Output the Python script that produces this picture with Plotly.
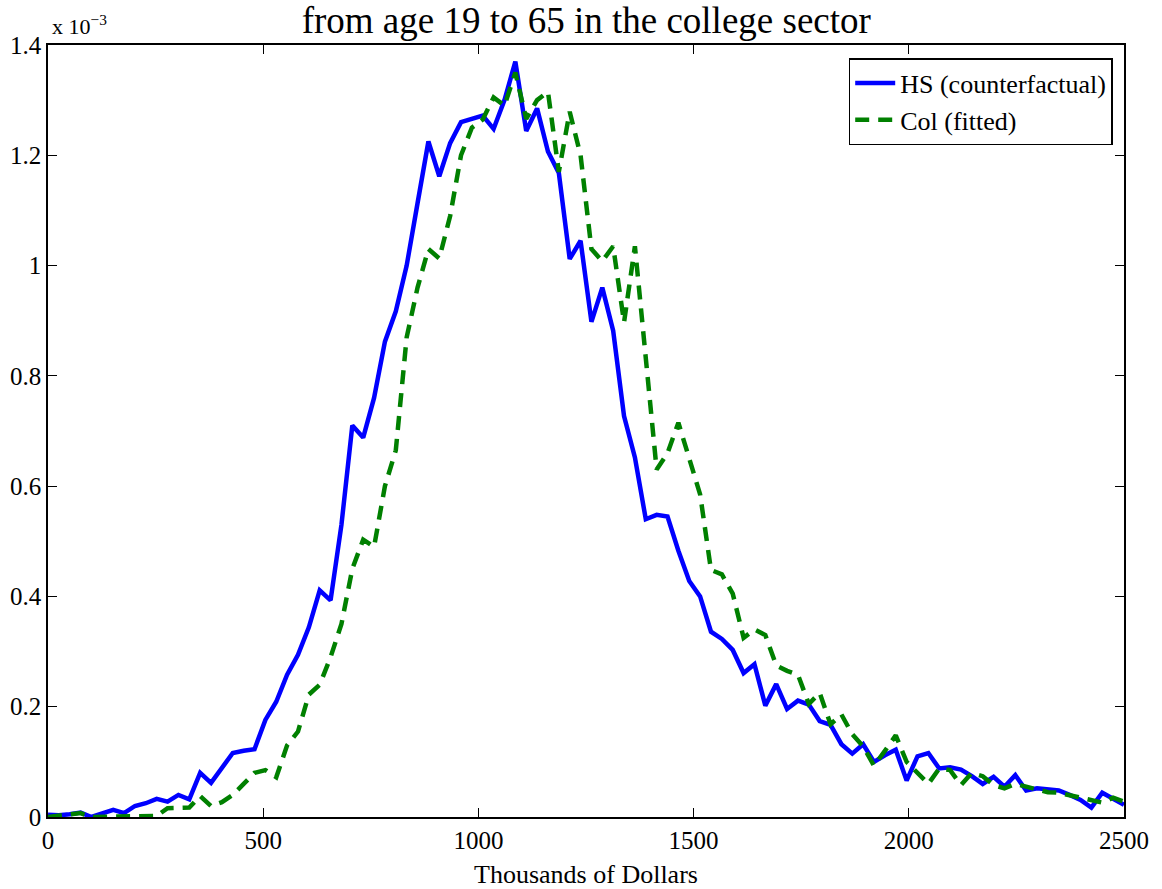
import numpy as np
import plotly.graph_objects as go

# income grid, thousands of dollars (100 evaluation points from 0 to 2500)
INCOME = np.linspace(0, 2500, 100)

# densities, in units of 1e-3
HS_COUNTERFACTUAL = [
    0.004, 0.003, 0.005, 0.008, 0.000, 0.007, 0.013, 0.007, 0.020, 0.025,
    0.033, 0.028, 0.040, 0.032, 0.080, 0.062, 0.089, 0.116, 0.120, 0.123,
    0.176, 0.209, 0.258, 0.294, 0.344, 0.411, 0.393, 0.530, 0.710, 0.688,
    0.760, 0.862, 0.917, 1.000, 1.113, 1.225, 1.162, 1.222, 1.260, 1.265,
    1.272, 1.248, 1.300, 1.370, 1.244, 1.285, 1.207, 1.168, 1.012, 1.045,
    0.898, 0.960, 0.882, 0.727, 0.652, 0.540, 0.548, 0.545, 0.483, 0.428,
    0.400, 0.336, 0.323, 0.303, 0.261, 0.277, 0.202, 0.241, 0.196, 0.211,
    0.204, 0.174, 0.167, 0.132, 0.115, 0.132, 0.100, 0.112, 0.122, 0.066,
    0.110, 0.116, 0.088, 0.090, 0.086, 0.074, 0.060, 0.073, 0.055, 0.076,
    0.048, 0.052, 0.051, 0.048, 0.040, 0.031, 0.017, 0.044, 0.033, 0.022,
]

COL_FITTED = [
    0.000, 0.002, 0.004, 0.007, 0.000, 0.000, 0.000, 0.000, 0.001, 0.001,
    0.002, 0.016, 0.017, 0.017, 0.038, 0.020, 0.027, 0.040, 0.060, 0.080,
    0.085, 0.072, 0.130, 0.155, 0.222, 0.240, 0.290, 0.350, 0.450, 0.503,
    0.490, 0.600, 0.665, 0.870, 0.960, 1.030, 1.013, 1.090, 1.200, 1.250,
    1.265, 1.305, 1.290, 1.350, 1.266, 1.300, 1.315, 1.170, 1.279, 1.200,
    1.030, 1.008, 1.035, 0.897, 1.035, 0.830, 0.630, 0.660, 0.715, 0.650,
    0.585, 0.448, 0.440, 0.405, 0.325, 0.340, 0.330, 0.275, 0.265, 0.258,
    0.205, 0.225, 0.168, 0.186, 0.150, 0.128, 0.093, 0.120, 0.148, 0.100,
    0.080, 0.060, 0.088, 0.085, 0.058, 0.080, 0.074, 0.058, 0.052, 0.060,
    0.055, 0.050, 0.045, 0.044, 0.040, 0.035, 0.030, 0.026, 0.035, 0.028,
]

X_TICKS = [0, 500, 1000, 1500, 2000, 2500]
Y_TICKS = [0, 0.2, 0.4, 0.6, 0.8, 1.0, 1.2, 1.4]
Y_TICK_TEXT = ["0", "0.2", "0.4", "0.6", "0.8", "1", "1.2", "1.4"]

SERIF = "Liberation Serif, Times New Roman, serif"

fig = go.Figure()
fig.add_trace(go.Scatter(
    x=INCOME, y=HS_COUNTERFACTUAL, mode="lines", name="HS (counterfactual)",
    line=dict(color="#0000ff", width=4.5),
))
fig.add_trace(go.Scatter(
    x=INCOME, y=COL_FITTED, mode="lines", name="Col (fitted)",
    line=dict(color="#008000", width=4.5, dash="14px,9px"),
))

axis_common = dict(
    showline=True, linecolor="black", linewidth=1.5, mirror="ticks",
    ticks="inside", ticklen=9, tickwidth=1, tickcolor="black",
    showgrid=False, zeroline=False, automargin=False,
    tickfont=dict(family=SERIF, size=25, color="black"),
)

fig.update_layout(
    width=1162, height=889,
    paper_bgcolor="white", plot_bgcolor="white",
    margin=dict(l=48, r=38, t=45, b=72),
    font=dict(family=SERIF, color="black"),
    title=dict(
        text="from age 19 to 65 in the college sector",
        x=0.5045, xanchor="center", y=0.978, yanchor="middle",
        font=dict(family=SERIF, size=37, color="black"),
    ),
    xaxis=dict(
        range=[0, 2500], tickvals=X_TICKS,
        title=dict(text="Thousands of Dollars", font=dict(family=SERIF, size=26), standoff=20),
        **axis_common,
    ),
    yaxis=dict(
        range=[0, 1.4], tickvals=Y_TICKS, ticktext=Y_TICK_TEXT,
        **axis_common,
    ),
    legend=dict(
        x=0.9895, xanchor="right", y=0.983, yanchor="top",
        bgcolor="white", bordercolor="black", borderwidth=1.5,
        font=dict(family=SERIF, size=26, color="black"),
        itemwidth=40, tracegroupgap=0,
    ),
    showlegend=True,
)

fig.add_annotation(
    text="x 10<sup>−3</sup>", xref="paper", yref="paper",
    x=0.0, xanchor="left", y=1.0, yanchor="bottom", yshift=4, xshift=2,
    showarrow=False, font=dict(family=SERIF, size=22, color="black"),
)

# the page body has a default 8px margin; drop it so the figure sits at the window's corner
fig.write_html(
    "out.html",
    config={"displayModeBar": False},
    post_script="document.body.style.margin='0';document.body.style.overflow='hidden';",
)
